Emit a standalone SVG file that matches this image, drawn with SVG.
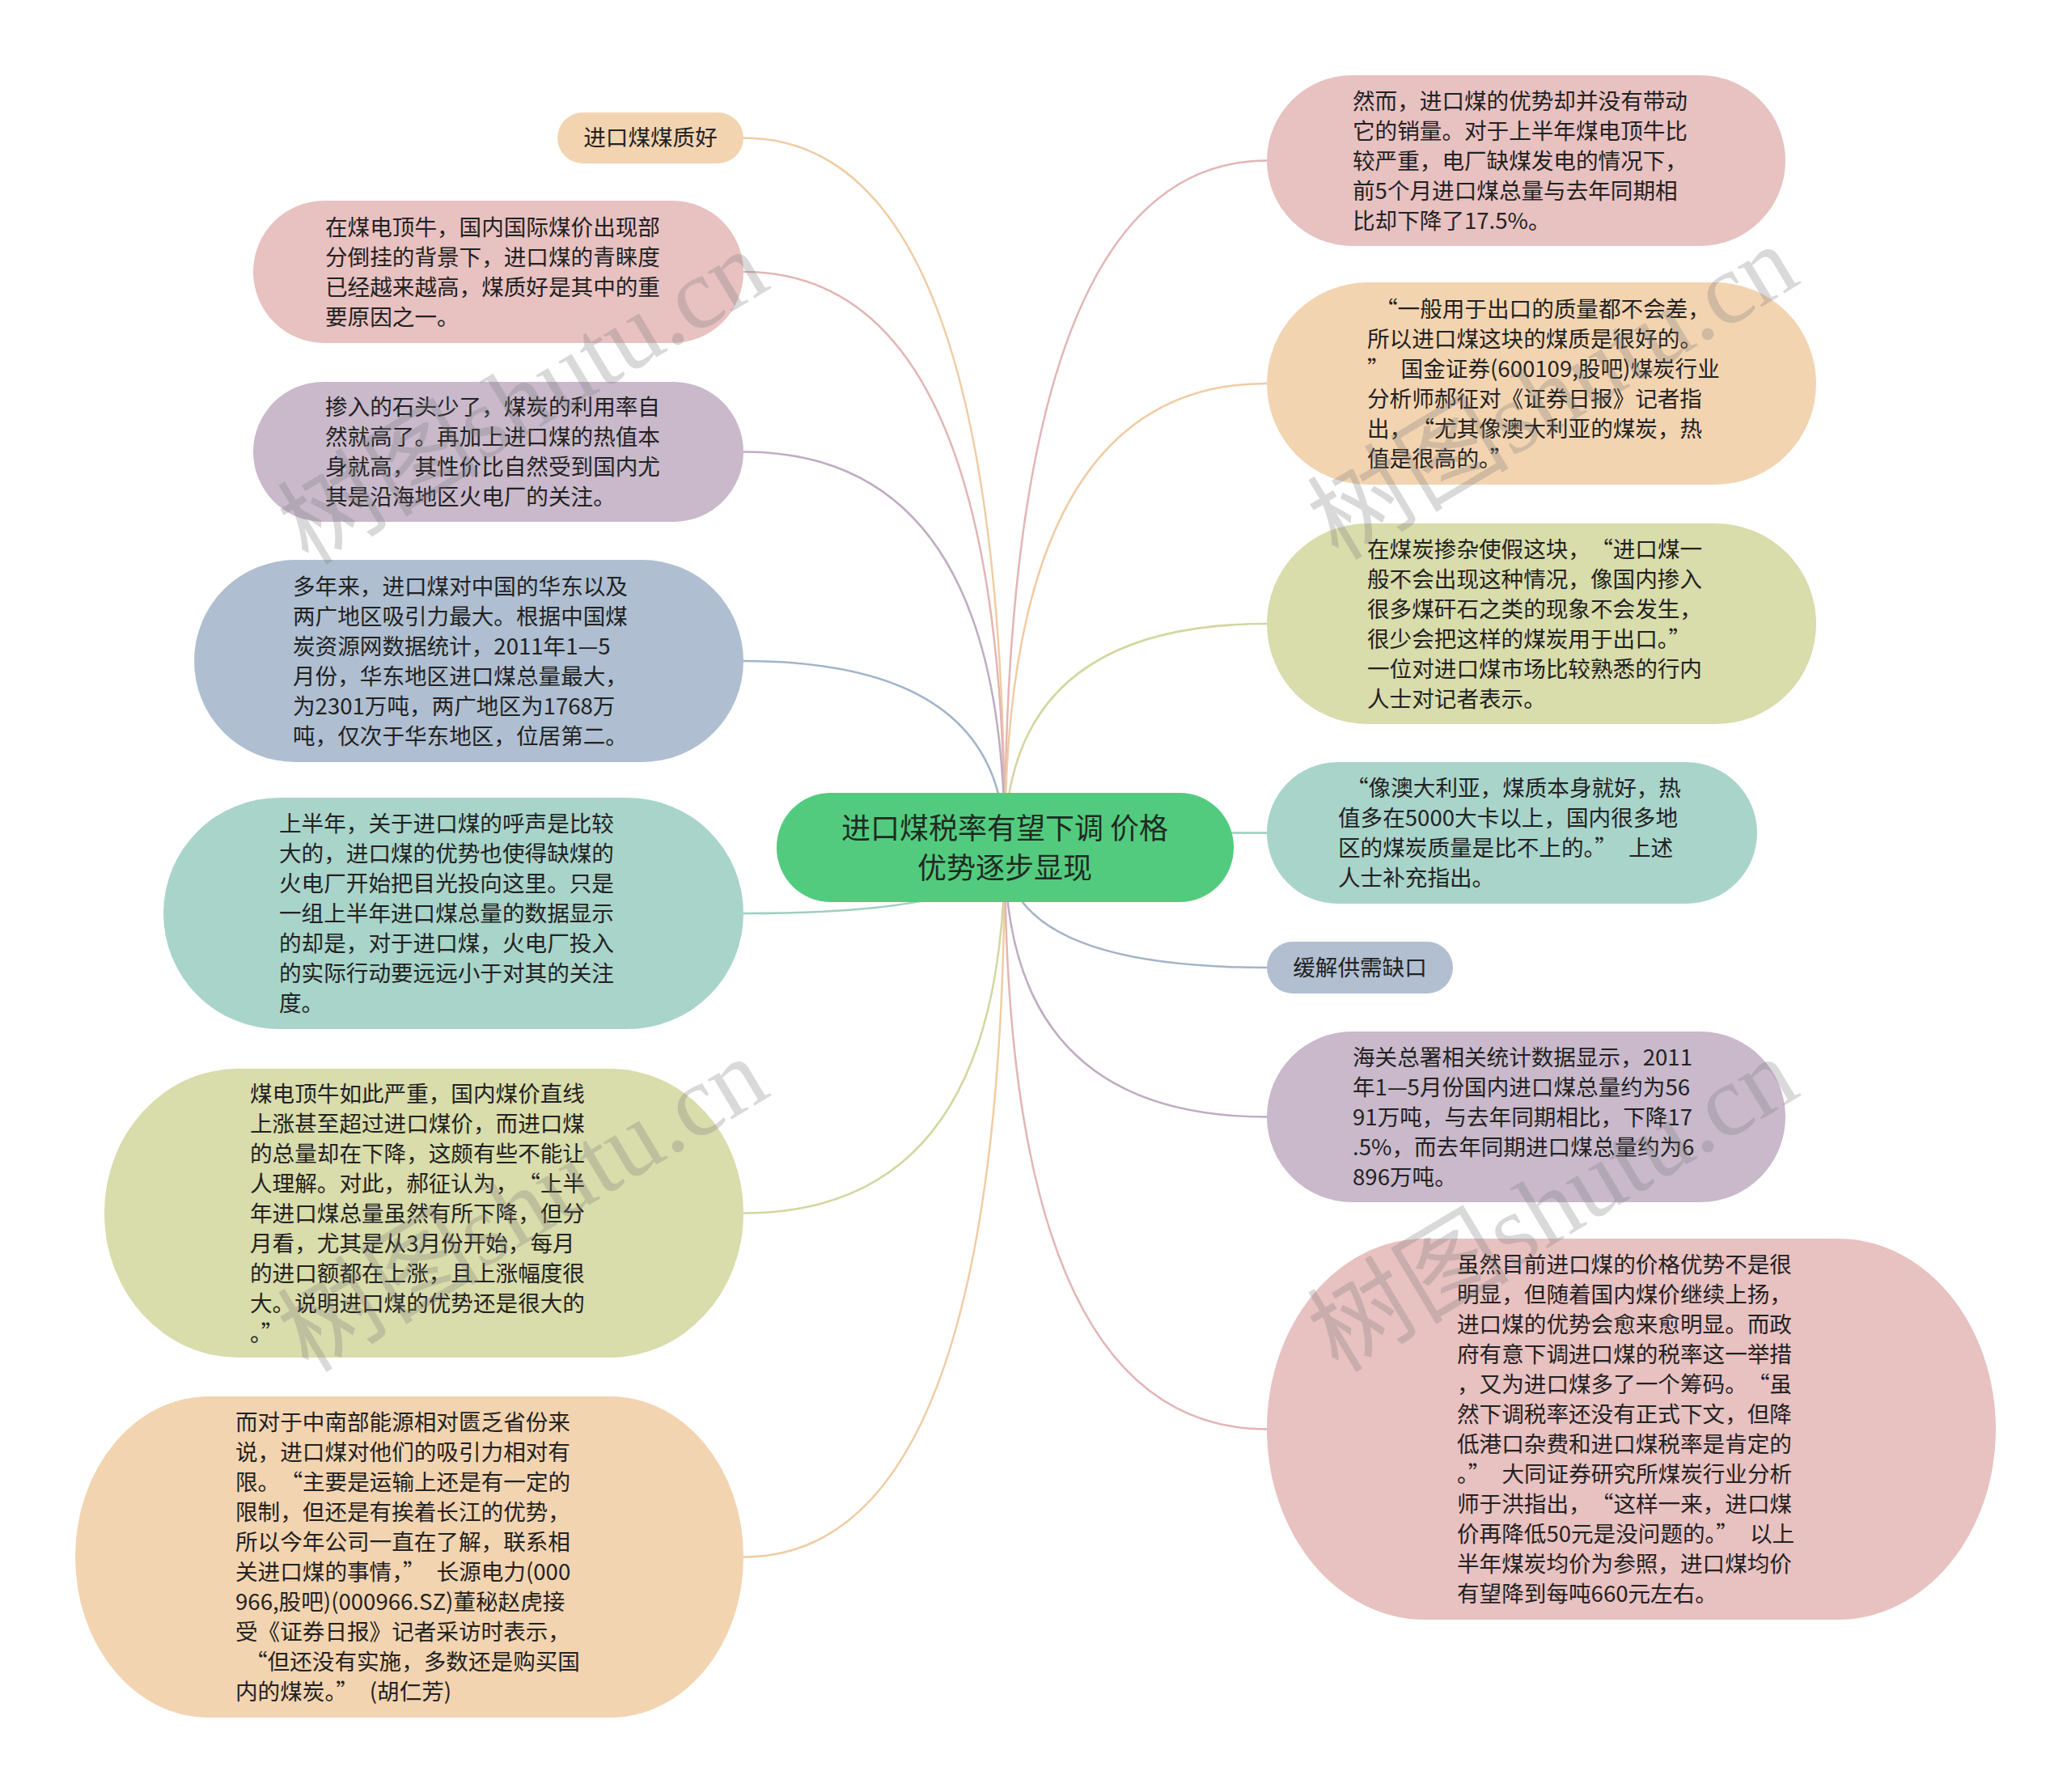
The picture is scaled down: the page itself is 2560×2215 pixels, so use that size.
<svg xmlns="http://www.w3.org/2000/svg" width="2560" height="2215" viewBox="0 0 2560 2215">
<style>
text{font-family:"Noto Sans CJK SC","Microsoft YaHei","Noto Sans",sans-serif;fill:#222;}
.t{font-size:27.6px;}
.c{font-size:36px;text-anchor:middle;fill:#1f2a22;}
.m{text-anchor:middle;}
.ln{fill:none;stroke-width:2.5;}
.pk{fill:#e8c1c1;} .pe{fill:#f3d4b1;} .pu{fill:#c9b9cb;} .bl{fill:#afbfd1;} .te{fill:#a9d4ca;} .ol{fill:#d9dcab;}
.wm{font-family:"Liberation Serif","Noto Sans CJK SC",serif;font-size:125px;fill:#7a7a7a;opacity:0.28;}
</style>
<rect width="2560" height="2215" fill="#ffffff"/>
<g id="connectors">
<path class="ln" stroke="#f0cca3" d="M919 170.5 Q1242 170.5 1242 1048"/>
<path class="ln" stroke="#e3b5b5" d="M919 336 Q1242 336 1242 1048"/>
<path class="ln" stroke="#bfadc2" d="M919 558.5 Q1242 558.5 1242 1048"/>
<path class="ln" stroke="#a3b4c8" d="M919 817 Q1242 817 1242 1048"/>
<path class="ln" stroke="#9fcfc2" d="M919 1129 Q1242 1129 1242 1048"/>
<path class="ln" stroke="#d3d7a0" d="M919 1499.5 Q1242 1499.5 1242 1048"/>
<path class="ln" stroke="#f0cca3" d="M919 1924.5 Q1242 1924.5 1242 1048"/>
<path class="ln" stroke="#e3b5b5" d="M1566 198.5 Q1242 198.5 1242 1048"/>
<path class="ln" stroke="#f0cca3" d="M1566 474 Q1242 474 1242 1048"/>
<path class="ln" stroke="#d3d7a0" d="M1566 771 Q1242 771 1242 1048"/>
<path class="ln" stroke="#9fcfc2" d="M1566 1029.5 Q1242 1029.5 1242 1048"/>
<path class="ln" stroke="#a3b4c8" d="M1566 1196 Q1242 1196 1242 1048"/>
<path class="ln" stroke="#bfadc2" d="M1566 1380.5 Q1242 1380.5 1242 1048"/>
<path class="ln" stroke="#e3b5b5" d="M1566 1766.5 Q1242 1766.5 1242 1048"/>
</g>
<g id="center">
<rect x="960" y="980" width="565" height="135" rx="67" ry="67" fill="#53cb7f"/>
<text class="c" x="1242" y="1037">进口煤税率有望下调 价格</text>
<text class="c" x="1242" y="1086">优势逐步显现</text>
</g>
<g id="L1">
<rect class="pe" x="689" y="139" width="230" height="63" rx="31.5"/>
<text class="t m" x="804" y="180">进口煤煤质好</text>
</g>
<g id="L2">
<rect class="pk" x="313" y="248" width="606" height="176" rx="88"/>
<text class="t" x="402" y="290.5">在煤电顶牛，国内国际煤价出现部</text>
<text class="t" x="402" y="327.5">分倒挂的背景下，进口煤的青睐度</text>
<text class="t" x="402" y="364.5">已经越来越高，煤质好是其中的重</text>
<text class="t" x="402" y="401.5">要原因之一。</text>
</g>
<g id="L3">
<rect class="pu" x="313" y="472" width="606" height="173" rx="86.5"/>
<text class="t" x="402" y="513">掺入的石头少了，煤炭的利用率自</text>
<text class="t" x="402" y="550">然就高了。再加上进口煤的热值本</text>
<text class="t" x="402" y="587">身就高，其性价比自然受到国内尤</text>
<text class="t" x="402" y="624">其是沿海地区火电厂的关注。</text>
</g>
<g id="L4">
<rect class="bl" x="240" y="692" width="679" height="250" rx="125"/>
<text class="t" x="362" y="734.5">多年来，进口煤对中国的华东以及</text>
<text class="t" x="362" y="771.5">两广地区吸引力最大。根据中国煤</text>
<text class="t" x="362" y="808.5">炭资源网数据统计，2011年1—5</text>
<text class="t" x="362" y="845.5">月份，华东地区进口煤总量最大，</text>
<text class="t" x="362" y="882.5">为2301万吨，两广地区为1768万</text>
<text class="t" x="362" y="919.5">吨，仅次于华东地区，位居第二。</text>
</g>
<g id="L5">
<rect class="te" x="202" y="986" width="717" height="286" rx="143"/>
<text class="t" x="345" y="1028">上半年，关于进口煤的呼声是比较</text>
<text class="t" x="345" y="1065">大的，进口煤的优势也使得缺煤的</text>
<text class="t" x="345" y="1102">火电厂开始把目光投向这里。只是</text>
<text class="t" x="345" y="1139">一组上半年进口煤总量的数据显示</text>
<text class="t" x="345" y="1176">的却是，对于进口煤，火电厂投入</text>
<text class="t" x="345" y="1213">的实际行动要远远小于对其的关注</text>
<text class="t" x="345" y="1250">度。</text>
</g>
<g id="L6">
<rect class="ol" x="129" y="1321" width="790" height="357" rx="165" ry="178"/>
<text class="t" x="309" y="1361.5">煤电顶牛如此严重，国内煤价直线</text>
<text class="t" x="309" y="1398.5">上涨甚至超过进口煤价，而进口煤</text>
<text class="t" x="309" y="1435.5">的总量却在下降，这颇有些不能让</text>
<text class="t" x="309" y="1472.5">人理解。对此，郝征认为，<tspan dx="14">“</tspan>上半</text>
<text class="t" x="309" y="1509.5">年进口煤总量虽然有所下降，但分</text>
<text class="t" x="309" y="1546.5">月看，尤其是从3月份开始，每月</text>
<text class="t" x="309" y="1583.5">的进口额都在上涨，且上涨幅度很</text>
<text class="t" x="309" y="1620.5">大。说明进口煤的优势还是很大的</text>
<text class="t" x="309" y="1657.5">。”</text>
</g>
<g id="L7">
<rect class="pe" x="93" y="1726" width="826" height="397" rx="165" ry="198"/>
<text class="t" x="291" y="1768">而对于中南部能源相对匮乏省份来</text>
<text class="t" x="291" y="1805">说，进口煤对他们的吸引力相对有</text>
<text class="t" x="291" y="1842">限。<tspan dx="14">“</tspan>主要是运输上还是有一定的</text>
<text class="t" x="291" y="1879">限制，但还是有挨着长江的优势，</text>
<text class="t" x="291" y="1916">所以今年公司一直在了解，联系相</text>
<text class="t" x="291" y="1953">关进口煤的事情，”<tspan dx="14">长源电力(000</tspan></text>
<text class="t" x="291" y="1990">966,股吧)(000966.SZ)董秘赵虎接</text>
<text class="t" x="291" y="2027">受《证券日报》记者采访时表示，</text>
<text class="t" x="291" y="2064"><tspan dx="12">“</tspan>但还没有实施，多数还是购买国</text>
<text class="t" x="291" y="2101">内的煤炭。”<tspan dx="14">(胡仁芳)</tspan></text>
</g>
<g id="R1">
<rect class="pk" x="1566" y="93" width="641" height="211" rx="105.5"/>
<text class="t" x="1672" y="134.5">然而，进口煤的优势却并没有带动</text>
<text class="t" x="1672" y="171.5">它的销量。对于上半年煤电顶牛比</text>
<text class="t" x="1672" y="208.5">较严重，电厂缺煤发电的情况下，</text>
<text class="t" x="1672" y="245.5">前5个月进口煤总量与去年同期相</text>
<text class="t" x="1672" y="282.5">比却下降了17.5%。</text>
</g>
<g id="R2">
<rect class="pe" x="1566" y="349" width="679" height="250" rx="125"/>
<text class="t" x="1690" y="391.5"><tspan dx="10">“</tspan>一般用于出口的质量都不会差，</text>
<text class="t" x="1690" y="428.5">所以进口煤这块的煤质是很好的。</text>
<text class="t" x="1690" y="465.5">”<tspan dx="14">国金证券(600109,股吧)煤炭行业</tspan></text>
<text class="t" x="1690" y="502.5">分析师郝征对《证券日报》记者指</text>
<text class="t" x="1690" y="539.5">出，<tspan dx="14">“</tspan>尤其像澳大利亚的煤炭，热</text>
<text class="t" x="1690" y="576.5">值是很高的。”</text>
</g>
<g id="R3">
<rect class="ol" x="1566" y="647" width="679" height="248" rx="124"/>
<text class="t" x="1690" y="688.5">在煤炭掺杂使假这块，<tspan dx="14">“</tspan>进口煤一</text>
<text class="t" x="1690" y="725.5">般不会出现这种情况，像国内掺入</text>
<text class="t" x="1690" y="762.5">很多煤矸石之类的现象不会发生，</text>
<text class="t" x="1690" y="799.5">很少会把这样的煤炭用于出口。”</text>
<text class="t" x="1690" y="836.5">一位对进口煤市场比较熟悉的行内</text>
<text class="t" x="1690" y="873.5">人士对记者表示。</text>
</g>
<g id="R4">
<rect class="te" x="1566" y="942" width="606" height="175" rx="87.5"/>
<text class="t" x="1654" y="984"><tspan dx="10">“</tspan>像澳大利亚，煤质本身就好，热</text>
<text class="t" x="1654" y="1021">值多在5000大卡以上，国内很多地</text>
<text class="t" x="1654" y="1058">区的煤炭质量是比不上的。”<tspan dx="14">上述</tspan></text>
<text class="t" x="1654" y="1095">人士补充指出。</text>
</g>
<g id="R5">
<rect x="1566" y="1164" width="230" height="64" rx="32" fill="#b1bfd0"/>
<text class="t m" x="1681" y="1206">缓解供需缺口</text>
</g>
<g id="R6">
<rect class="pu" x="1566" y="1275" width="641" height="211" rx="105.5"/>
<text class="t" x="1672" y="1316.5">海关总署相关统计数据显示，2011</text>
<text class="t" x="1672" y="1353.5">年1—5月份国内进口煤总量约为56</text>
<text class="t" x="1672" y="1390.5">91万吨，与去年同期相比，下降17</text>
<text class="t" x="1672" y="1427.5">.5%，而去年同期进口煤总量约为6</text>
<text class="t" x="1672" y="1464.5">896万吨。</text>
</g>
<g id="R7">
<rect class="pk" x="1566" y="1531" width="901" height="471" rx="195" ry="235.5"/>
<text class="t" x="1801" y="1573">虽然目前进口煤的价格优势不是很</text>
<text class="t" x="1801" y="1610">明显，但随着国内煤价继续上扬，</text>
<text class="t" x="1801" y="1647">进口煤的优势会愈来愈明显。而政</text>
<text class="t" x="1801" y="1684">府有意下调进口煤的税率这一举措</text>
<text class="t" x="1801" y="1721">，又为进口煤多了一个筹码。<tspan dx="14">“</tspan>虽</text>
<text class="t" x="1801" y="1758">然下调税率还没有正式下文，但降</text>
<text class="t" x="1801" y="1795">低港口杂费和进口煤税率是肯定的</text>
<text class="t" x="1801" y="1832">。”<tspan dx="14">大同证券研究所煤炭行业分析</tspan></text>
<text class="t" x="1801" y="1869">师于洪指出，<tspan dx="14">“</tspan>这样一来，进口煤</text>
<text class="t" x="1801" y="1906">价再降低50元是没问题的。”<tspan dx="14">以上</tspan></text>
<text class="t" x="1801" y="1943">半年煤炭均价为参照，进口煤均价</text>
<text class="t" x="1801" y="1980">有望降到每吨660元左右。</text>
</g>
<g id="watermarks">
<text class="wm" transform="translate(381,700) rotate(-31)">树图shutu.cn</text>
<text class="wm" transform="translate(1654,694) rotate(-31)">树图shutu.cn</text>
<text class="wm" transform="translate(381,1698) rotate(-31)">树图shutu.cn</text>
<text class="wm" transform="translate(1654,1698) rotate(-31)">树图shutu.cn</text>
</g>
</svg>
